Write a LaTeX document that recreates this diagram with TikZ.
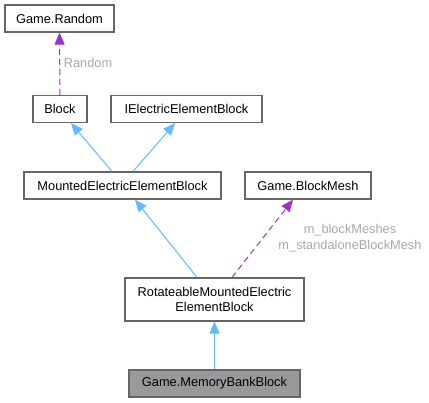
\documentclass[tikz,border=0pt]{standalone}
\usepackage{fontspec}
\setmainfont{Liberation Sans}
\usetikzlibrary{arrows.meta}
\definecolor{inhblue}{HTML}{63B8FF}
\definecolor{usepurple}{HTML}{9A32CD}
\definecolor{boxgray}{HTML}{666666}
\definecolor{labgray}{HTML}{A8A8A8}
\definecolor{mainfill}{HTML}{999999}

\begin{document}
\begin{tikzpicture}[x = 1pt, y = -1pt,
  every node/.style = {font = \fontsize{12.8}{15.5}\selectfont, inner sep = 0pt},
  cls/.style = {draw = boxgray, line width = 1.2pt, fill = white, minimum height = 27pt, align = center},
  inherit/.style = {draw = inhblue, line width = 1pt, -{Triangle[length = 12pt, width = 10pt]}},
  usage/.style = {draw = usepurple, line width = 1pt, dash pattern = on 6pt off 4pt, -{Triangle[length = 12pt, width = 10pt]}},
  lbl/.style = {text = labgray, align = center}]
\useasboundingbox (0,0) rectangle (429,403);
% classes
\node[cls, minimum width = 109pt] (rnd) at (59.5,18.5) {Game.Random};
\node[cls, minimum width = 54pt] (blk) at (60,109) {Block};
\node[cls, minimum width = 151pt] (ieb) at (186.5,109) {IElectricElementBlock};
\node[cls, minimum width = 197pt] (meb) at (122.5,185.5) {MountedElectricElementBlock};
\node[cls, minimum width = 126pt] (mesh) at (308,185.5) {Game.BlockMesh};
\node[cls, minimum width = 179pt, minimum height = 43pt] (rot) at (214.5,299.5) {RotateableMountedElectric\\ElementBlock};
\node[cls, minimum width = 171pt, fill = mainfill] (mbb) at (214.5,383.5) {Game.MemoryBankBlock};
% edges
\draw[usage] (blk.north) -- (rnd.south);
\draw[inherit] ([xshift = -10.5pt]meb.north) -- ([xshift = 11pt]blk.south);
\draw[inherit] ([xshift = 10.5pt]meb.north) -- ([xshift = -11.5pt]ieb.south);
\draw[inherit] ([xshift = -17.5pt]rot.north) -- ([xshift = 12.5pt]meb.south);
\draw[usage] ([xshift = 17.5pt]rot.north) -- ([xshift = -15pt]mesh.south);
\draw[inherit] (mbb.north) -- (rot.south);
% labels
\node[lbl] (rndlbl) at (88,63) {Random};
\node[lbl] (meshlbl) at (350,238) {m\_blockMeshes\\m\_standaloneBlockMesh};
\end{tikzpicture}
\end{document}
